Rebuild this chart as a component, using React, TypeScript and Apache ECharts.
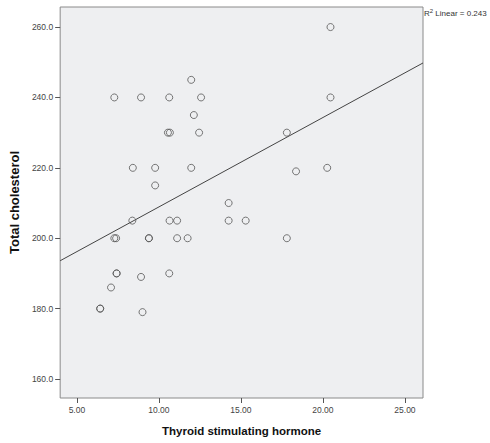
import React, { useEffect, useRef } from "react";
import * as echarts from "echarts";

const tshValues = [
  7.28, 8.91, 10.63, 12.57, 11.97, 12.13, 10.55, 10.67, 12.45, 8.41, 9.77, 11.97, 9.77,
  14.25, 8.38, 10.65, 11.11, 14.25, 15.29, 20.46, 20.46, 17.8, 18.36, 20.26, 7.28, 7.39,
  9.39, 9.39, 11.11, 11.75, 7.42, 7.42, 10.63, 8.91, 7.08, 6.42, 6.42, 9.0, 17.8,
];
const cholesterolValues = [
  240, 240, 240, 240, 245, 235, 230, 230, 230, 220, 220, 220, 215,
  210, 205, 205, 205, 205, 205, 260, 240, 230, 219, 220, 200, 200,
  200, 200, 200, 200, 190, 190, 190, 189, 186, 180, 180, 179, 200,
];
const fitLineX = [3.98, 26.1];
const fitLineY = [193.6, 249.8];
const xTicks = [5, 10, 15, 20, 25];
const yTicks = [160, 180, 200, 220, 240, 260];
const xTitle = "Thyroid stimulating hormone";
const yTitle = "Total cholesterol";
const rSquared = "0.243";

export default function App() {
  const ref = useRef<HTMLDivElement>(null);
  useEffect(() => {
    if (!ref.current) return;
    const chart = echarts.init(ref.current, null, { renderer: "svg" });
    const points = tshValues.map((x, i) => [x, cholesterolValues[i]]);
    const fit = fitLineX.map((x, i) => [x, fitLineY[i]]);
    const labelFont = { fontFamily: "Liberation Sans, Arial, sans-serif", fontSize: 8.5, color: "#444" };
    chart.setOption({
      animation: false,
      backgroundColor: "#ffffff",
      grid: {
        left: 55,
        top: 7,
        right: 67,
        bottom: 45,
        show: true,
        backgroundColor: "#EEEFF1",
        borderColor: "#8a8a8a",
        borderWidth: 1,
      },
      xAxis: {
        type: "value",
        min: 3.98,
        max: 26.1,
        name: xTitle,
        nameLocation: "middle",
        nameGap: 27,
        nameTextStyle: {
          fontFamily: "Liberation Sans, Arial, sans-serif",
          fontWeight: "bold",
          fontSize: 11.5,
          color: "#111",
        },
        axisLine: { show: false },
        splitLine: { show: false },
        axisTick: { show: true, length: 5, lineStyle: { color: "#555" }, customValues: xTicks },
        axisLabel: { ...labelFont, margin: 7, customValues: xTicks, formatter: (v: number) => v.toFixed(2) },
      },
      yAxis: {
        type: "value",
        min: 154.6,
        max: 265.7,
        name: yTitle,
        nameLocation: "middle",
        nameRotate: 90,
        nameGap: 34,
        nameTextStyle: {
          fontFamily: "Liberation Sans, Arial, sans-serif",
          fontWeight: "bold",
          fontSize: 13,
          color: "#111",
        },
        axisLine: { show: false },
        splitLine: { show: false },
        axisTick: { show: true, length: 5, lineStyle: { color: "#555" }, customValues: yTicks },
        axisLabel: { ...labelFont, margin: 7, customValues: yTicks, formatter: (v: number) => v.toFixed(1) },
      },
      graphic: [
        {
          type: "text",
          left: 424,
          top: 8,
          style: {
            text: "R{sup|2} Linear = " + rSquared,
            fontFamily: "Liberation Sans, Arial, sans-serif",
            fontSize: 8,
            fill: "#333",
            rich: {
              sup: { fontSize: 6, verticalAlign: "top", fill: "#333", padding: [0, 0, 4, 0] },
            },
          },
        },
      ],
      series: [
        {
          type: "line",
          data: fit,
          symbol: "none",
          lineStyle: { color: "#444", width: 1 },
          silent: true,
          z: 2,
        },
        {
          type: "scatter",
          data: points,
          symbol: "circle",
          symbolSize: 7,
          itemStyle: { color: "rgba(0,0,0,0)", borderColor: "#555", borderWidth: 1 },
          z: 3,
        },
      ],
    });
    return () => chart.dispose();
  }, []);
  return (
    <div
      ref={ref}
      style={{ position: "fixed", left: 0, top: 0, width: 490, height: 443, background: "#fff" }}
    />
  );
}
